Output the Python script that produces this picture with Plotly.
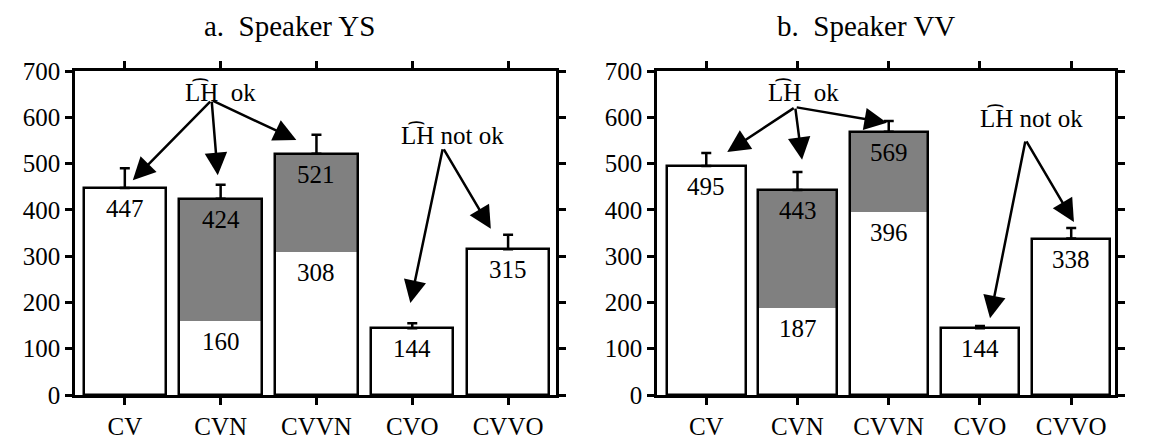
import plotly.graph_objects as go

categories = ["CV", "CVN", "CVVN", "CVO", "CVVO"]

ys_total = [447, 424, 521, 144, 315]
ys_lower = [0, 160, 308, 0, 0]
ys_err = [43, 30, 41, 11, 31]

vv_total = [495, 443, 569, 144, 338]
vv_lower = [0, 187, 396, 0, 0]
vv_err = [28, 39, 23, 5, 23]

titles = ["a.  Speaker YS", "b.  Speaker VV"]
y_ticks = [0, 100, 200, 300, 400, 500, 600, 700]

FONT = "Liberation Serif"
GRAY = "#808080"
BW = 0.86
LW = 2.5
W, H = 1149, 438
OFF = 8  # page offset of the figure inside the browser window

fig = go.Figure()
xs = list(range(len(categories)))

panels = [
    ("x", "y", ys_total, ys_lower, ys_err),
    ("x2", "y2", vv_total, vv_lower, vv_err),
]

annotations = []
for xa, ya, tot, low, err in panels:
    fills = [GRAY if l > 0 else "white" for l in low]
    fig.add_trace(go.Bar(x=xs, y=tot, width=BW, marker=dict(color=fills, line=dict(width=0)),
                         xaxis=xa, yaxis=ya, showlegend=False, hoverinfo="skip"))
    fig.add_trace(go.Bar(x=xs, y=low, width=BW, marker=dict(color="white", line=dict(width=0)),
                         xaxis=xa, yaxis=ya, showlegend=False, hoverinfo="skip"))
    fig.add_trace(go.Bar(x=xs, y=tot, width=BW,
                         marker=dict(color="rgba(0,0,0,0)", line=dict(color="black", width=LW)),
                         error_y=dict(type="data", array=err, arrayminus=[0]*len(err), symmetric=False,
                                      color="black", thickness=LW, width=5),
                         xaxis=xa, yaxis=ya, showlegend=False, hoverinfo="skip"))
    for i in xs:
        annotations.append(dict(x=i, y=tot[i], xref=xa, yref=ya, text=str(tot[i]), showarrow=False,
                                yanchor="top", yshift=-5, font=dict(family=FONT, size=25, color="black")))
        if low[i] > 0:
            annotations.append(dict(x=i, y=low[i], xref=xa, yref=ya, text=str(low[i]), showarrow=False,
                                    yanchor="top", yshift=-5, font=dict(family=FONT, size=25, color="black")))

# arrow annotations (tail -> tip) in data coordinates
arrows = [
    ("x", "y", (0.906, 637), [(0.083, 464), (0.97, 475), (1.79, 551)]),
    ("x", "y", (3.32, 534), [(2.98, 199), (3.82, 359)]),
    ("x2", "y2", (0.975, 622), [(0.23, 525), (1.05, 508), (1.98, 588)]),
    ("x2", "y2", (3.50, 551), [(3.11, 166), (4.03, 374)]),
]
for xa, ya, tail, tips in arrows:
    for tip in tips:
        annotations.append(dict(x=tip[0], y=tip[1], ax=tail[0], ay=tail[1], xref=xa, yref=ya,
                                axref=xa, ayref=ya, showarrow=True, arrowhead=2, arrowsize=1.8,
                                arrowwidth=2.5, arrowcolor="black", standoff=0, startstandoff=0, text=""))

labels = [
    ("x", "y", 1.0, 655, "L\u0361H  ok"),
    ("x", "y", 3.42, 562, "L\u0361H not ok"),
    ("x2", "y2", 1.07, 655, "L\u0361H  ok"),
    ("x2", "y2", 3.56, 598, "L\u0361H not ok"),
]
for xa, ya, x, y, t in labels:
    annotations.append(dict(x=x, y=y, xref=xa, yref=ya, text=t, showarrow=False,
                            font=dict(family=FONT, size=25, color="black")))

for xpos, t in zip([202, 775], titles):
    annotations.append(dict(x=(xpos - OFF) / W, y=1, xref="paper", yref="paper", text=t,
                            showarrow=False, xanchor="left", yanchor="top",
                            font=dict(family=FONT, size=29, color="black")))

axis_common = dict(showline=True, linecolor="black", linewidth=LW, mirror="ticks", ticks="outside",
                   ticklen=7, tickwidth=LW, tickcolor="black", showgrid=False, zeroline=False,
                   automargin=False, tickfont=dict(family=FONT, size=25, color="black"))


def xdom(a, b):
    return [(a - OFF) / W, (b - OFF) / W]


ydom = [(H - (395 - OFF)) / H, (H - (71 - OFF)) / H]

fig.update_layout(
    template="none",
    width=W, height=H, barmode="overlay", bargap=0,
    margin=dict(l=0, r=0, t=0, b=0, autoexpand=False),
    paper_bgcolor="white", plot_bgcolor="white",
    font=dict(family=FONT, color="black"),
    xaxis=dict(domain=xdom(75, 556), range=[-0.52, 4.5], tickvals=xs, ticktext=categories,
               anchor="y", **axis_common),
    yaxis=dict(domain=ydom, range=[0, 700], tickvals=y_ticks, anchor="x", **axis_common),
    xaxis2=dict(domain=xdom(657, 1115), range=[-0.54, 4.48], tickvals=xs, ticktext=categories,
                anchor="y2", **axis_common),
    yaxis2=dict(domain=ydom, range=[0, 700], tickvals=y_ticks, anchor="x2", **axis_common),
    annotations=annotations,
)

fig.write_html("out.html")
